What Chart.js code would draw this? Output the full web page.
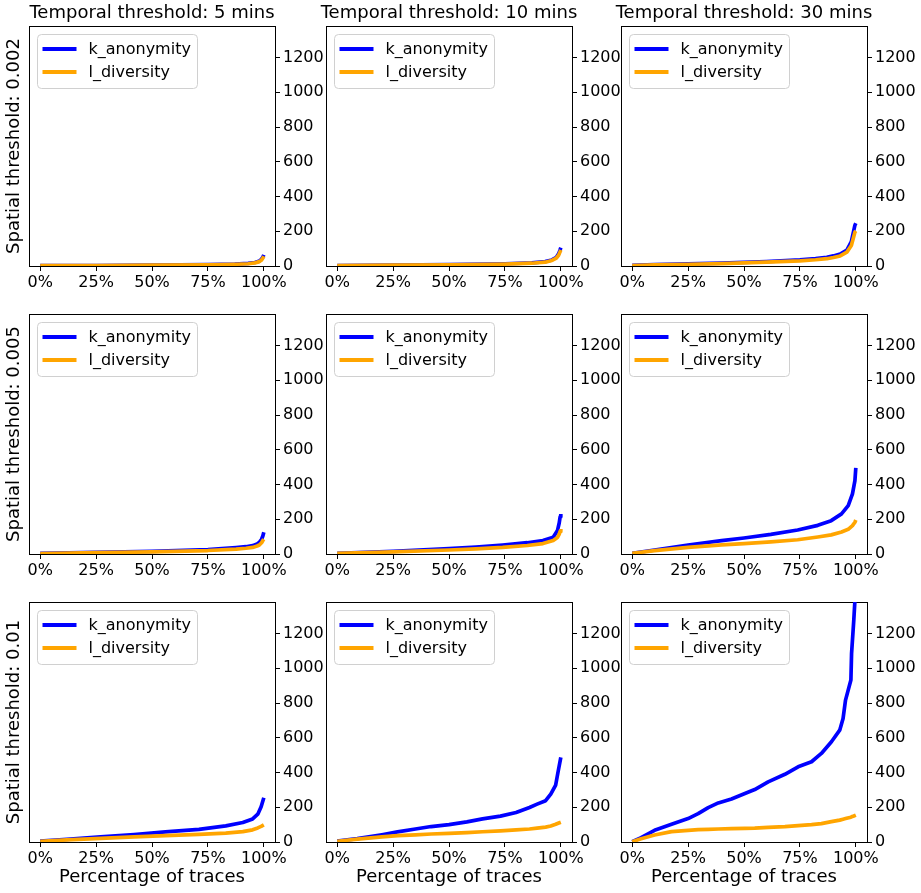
<!DOCTYPE html>
<html>
<head>
<meta charset="utf-8">
<script src="https://cdn.jsdelivr.net/npm/chart.js@4.4.0/dist/chart.umd.min.js"></script>
<style>
html, body { margin: 0; padding: 0; background: #fff; overflow: hidden; width: 921px; height: 893px; }
canvas { position: absolute; }
</style>
</head>
<body>
<script>
// ---------- labels ----------
const temporalTitles = ['Temporal threshold: 5 mins', 'Temporal threshold: 10 mins', 'Temporal threshold: 30 mins'];
const spatialTitles = ['Spatial threshold: 0.002', 'Spatial threshold: 0.005', 'Spatial threshold: 0.01'];
const xAxisTitle = 'Percentage of traces';
const seriesNames = ['k_anonymity', 'l_diversity'];
const xTickValues = [0, 25, 50, 75, 100];
const yTickValues = [0, 200, 400, 600, 800, 1000, 1200];

// ---------- data (x = percentage of traces) ----------
// spatial 0.002
const pct_s002_t5  = [0, 25, 50, 75, 87, 93, 96, 98, 99, 99.6, 100];
const k_s002_t5    = [2, 3, 5, 8, 11, 15, 20, 28, 40, 52, 64];
const l_s002_t5    = [2, 3, 5, 7, 10, 13, 18, 25, 35, 46, 56];

const pct_s002_t10 = [0, 25, 50, 75, 87, 93, 96, 98, 99, 99.6, 100];
const k_s002_t10   = [2, 5, 8, 13, 18, 25, 35, 50, 70, 90, 106];
const l_s002_t10   = [2, 5, 7, 11, 16, 22, 32, 46, 62, 80, 92];

const pct_s002_t30 = [0, 10, 25, 40, 50, 60, 75, 82, 87, 90, 93, 96, 98, 99, 99.6, 100];
const k_s002_t30   = [4, 8, 12, 17, 21, 25, 35, 42, 50, 58, 69, 92, 140, 200, 235, 246];
const l_s002_t30   = [3, 6, 10, 14, 18, 22, 30, 36, 42, 49, 58, 80, 118, 165, 195, 202];

// spatial 0.005
const pct_s005_t5  = [0, 25, 50, 75, 87.6, 92, 95, 97, 98, 99, 99.6, 100];
const k_s005_t5    = [4, 10, 15, 25, 37, 42, 48, 58, 67, 85, 105, 125];
const l_s005_t5    = [3, 8, 12, 20, 28, 33, 38, 46, 52, 65, 78, 85];

const pct_s005_t10 = [0, 25, 50, 62, 74, 85, 92, 96.6, 98.5, 99.3, 99.7, 100];
const k_s005_t10   = [4, 15, 31, 40, 52, 65, 77, 96, 135, 180, 215, 230];
const l_s005_t10   = [4, 12, 23, 30, 38, 49, 60, 78, 95, 115, 130, 144];

const pct_s005_t30 = [0, 10, 25, 40, 50, 62, 74, 83, 89, 93.6, 96.6, 98.5, 99.6, 100];
const k_s005_t30   = [4, 23, 52, 77, 92, 113, 138, 165, 192, 231, 279, 346, 423, 496];
const l_s005_t30   = [4, 19, 38, 52, 60, 70, 82, 98, 110, 127, 142, 163, 183, 196];

// spatial 0.01
const pct_s01_t5   = [0, 12, 27, 42, 56, 71, 83, 90.6, 95, 97.3, 98.8, 100];
const k_s01_t5     = [5, 15, 29, 43, 58, 73, 93, 112, 133, 160, 203, 255];
const l_s01_t5     = [4, 12, 21, 29, 37, 44, 51, 60, 70, 81, 90, 99];

const pct_s01_t10  = [0, 9, 20, 27, 35, 42, 50, 58, 65, 73, 80, 86, 89.4, 93.2, 95.5, 97.7, 98.8, 100];
const k_s01_t10    = [5, 19, 42, 58, 75, 89, 100, 116, 133, 149, 170, 199, 218, 238, 276, 328, 406, 487];
const l_s01_t10    = [4, 17, 29, 37, 41, 46, 50, 54, 59, 64, 70, 75, 80, 86, 92, 102, 108, 114];

const pct_s01_t30  = [0, 4, 10, 17.6, 25, 29.5, 34, 38.5, 44.4, 50.4, 54.8, 60.8, 68.3, 74.2, 80.2, 84.6, 89.1, 92.8, 94.3, 95.4, 97.8, 98.1, 99.1, 100];
const k_s01_t30    = [2, 25, 67, 102, 135, 163, 198, 225, 248, 279, 302, 346, 390, 433, 462, 510, 577, 644, 711, 817, 933, 1086, 1279, 1480];
const l_s01_t30    = [2, 19, 40, 60, 67, 71, 73, 75, 77, 79, 80, 84, 88, 94, 100, 106, 117, 126, 131, 135, 143, 145, 150, 155];

const panels = [
  [[pct_s002_t5, k_s002_t5, l_s002_t5], [pct_s002_t10, k_s002_t10, l_s002_t10], [pct_s002_t30, k_s002_t30, l_s002_t30]],
  [[pct_s005_t5, k_s005_t5, l_s005_t5], [pct_s005_t10, k_s005_t10, l_s005_t10], [pct_s005_t30, k_s005_t30, l_s005_t30]],
  [[pct_s01_t5,  k_s01_t5,  l_s01_t5 ], [pct_s01_t10,  k_s01_t10,  l_s01_t10 ], [pct_s01_t30,  k_s01_t30,  l_s01_t30 ]]
];

// ---------- layout / style ----------
const FONT = "'DejaVu Sans', 'Liberation Sans', sans-serif";
Chart.defaults.font.family = FONT;
Chart.defaults.color = '#000';
const colors = ['#0000ff', '#ffa500'];
const areaLeft = [29, 326, 621];
const areaTop = [26, 314, 602];
const AREA_W = 246, AREA_H = 240;
const PAD_L = 60, PAD_T = 26, PAD_R = 60, PAD_B = 50;

const mplLegend = {
  id: 'mplLegend',
  afterDraw(chart) {
    const { ctx, chartArea: a } = chart;
    const x0 = a.left + 8.5, y0 = a.top + 8.5, w = 160, h = 54, r = 4;
    ctx.save();
    ctx.beginPath();
    ctx.moveTo(x0 + r, y0);
    ctx.arcTo(x0 + w, y0, x0 + w, y0 + h, r);
    ctx.arcTo(x0 + w, y0 + h, x0, y0 + h, r);
    ctx.arcTo(x0, y0 + h, x0, y0, r);
    ctx.arcTo(x0, y0, x0 + w, y0, r);
    ctx.closePath();
    ctx.fillStyle = 'rgba(255,255,255,0.8)';
    ctx.fill();
    ctx.strokeStyle = '#d0d0d0';
    ctx.lineWidth = 1;
    ctx.stroke();
    chart.data.datasets.forEach((ds, i) => {
      const y = a.top + 23 + i * 23;
      ctx.beginPath();
      ctx.moveTo(a.left + 13.5, y);
      ctx.lineTo(a.left + 47.5, y);
      ctx.strokeStyle = ds.borderColor;
      ctx.lineWidth = 4;
      ctx.stroke();
      ctx.fillStyle = '#000';
      ctx.font = '16px ' + FONT;
      ctx.textBaseline = 'middle';
      ctx.textAlign = 'left';
      ctx.fillText(ds.label, a.left + 59.5, y + 1);
    });
    ctx.restore();
  }
};

function fixTicks(values) {
  return (scale) => { scale.ticks = values.map(v => ({ value: v })); };
}

for (let r = 0; r < 3; r++) {
  for (let c = 0; c < 3; c++) {
    const [pct, kv, lv] = panels[r][c];
    const cv = document.createElement('canvas');
    const W = PAD_L + AREA_W + PAD_R, H = PAD_T + AREA_H + PAD_B;
    cv.width = W; cv.height = H;
    cv.style.left = (areaLeft[c] - PAD_L) + 'px';
    cv.style.top = (areaTop[r] - PAD_T) + 'px';
    cv.style.width = W + 'px'; cv.style.height = H + 'px';
    document.body.appendChild(cv);

    new Chart(cv, {
      type: 'line',
      data: {
        datasets: [
          { label: seriesNames[0], data: pct.map((x, i) => ({ x, y: kv[i] })), borderColor: colors[0], backgroundColor: colors[0], order: 2 },
          { label: seriesNames[1], data: pct.map((x, i) => ({ x, y: lv[i] })), borderColor: colors[1], backgroundColor: colors[1], order: 1 }
        ]
      },
      options: {
        responsive: false,
        animation: false,
        events: [],
        layout: { padding: 0 },
        elements: { point: { radius: 0 }, line: { borderWidth: 3.7, tension: 0, borderCapStyle: 'butt', borderJoinStyle: 'round' } },
        datasets: { line: { clip: 0 } },
        plugins: {
          legend: { display: false },
          tooltip: { enabled: false },
          title: {
            display: r === 0, text: temporalTitles[c], position: 'top', align: 'center', fullSize: true,
            font: { size: 18, weight: 'normal' }, color: '#000', padding: { top: 3, bottom: 1.4 }
          }
        },
        scales: {
          x: {
            type: 'linear', position: 'bottom', min: -5, max: 105,
            afterBuildTicks: fixTicks(xTickValues),
            afterFit: (s) => { s.height = PAD_B; },
            ticks: { callback: (v) => v + '%', font: { size: 16 }, color: '#000', padding: 2, maxRotation: 0, autoSkip: false },
            grid: { display: true, drawOnChartArea: false, drawTicks: true, tickLength: 5, color: '#000', lineWidth: 1 },
            border: { display: true, color: '#000', width: 1 },
            title: { display: r === 2, text: xAxisTitle, font: { size: 18 }, color: '#000', padding: { top: 0, bottom: 4 } }
          },
          y: {
            type: 'linear', position: 'right', min: 0, max: 1382,
            afterBuildTicks: fixTicks(yTickValues),
            afterFit: (s) => { s.width = PAD_R; },
            ticks: { callback: (v) => String(v), font: { size: 16 }, color: '#000', padding: 3, autoSkip: false },
            grid: { display: true, drawOnChartArea: false, drawTicks: true, tickLength: 5, color: '#000', lineWidth: 1 },
            border: { display: true, color: '#000', width: 1 }
          },
          yl: {
            type: 'linear', position: 'left', axis: 'y', min: 0, max: 1,
            afterFit: (s) => { s.width = PAD_L; },
            ticks: { display: false },
            grid: { display: false },
            border: { display: true, color: '#000', width: 1 },
            title: { display: c === 0, text: spatialTitles[r], font: { size: 18 }, color: '#000', padding: { top: 34.2, bottom: 0 } }
          },
          xt: {
            type: 'linear', position: 'top', axis: 'x', min: 0, max: 1,
            afterFit: (s) => { s.height = (r === 0 ? 0 : PAD_T); },
            ticks: { display: false },
            grid: { display: false },
            border: { display: true, color: '#000', width: 1 }
          }
        }
      },
      plugins: [mplLegend]
    });
  }
}
</script>
</body>
</html>
